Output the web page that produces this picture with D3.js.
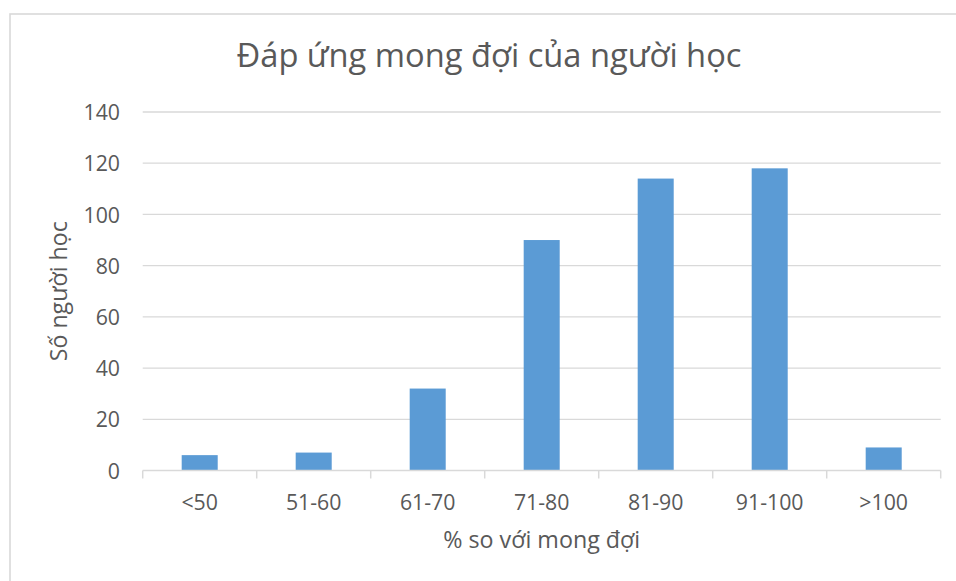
<!DOCTYPE html>
<html>
<head>
<meta charset="utf-8">
<script src="https://cdn.jsdelivr.net/npm/d3@7/dist/d3.min.js"></script>
<style>
  html, body { margin: 0; padding: 0; background: #ffffff; }
  svg { display: block; }
  text { font-family: "Open Sans", "Noto Sans", sans-serif; fill: #595959; }
</style>
</head>
<body>
<svg id="chart" width="956" height="581"></svg>
<script>
// ---- Data ----
const categories = ["<50", "51-60", "61-70", "71-80", "81-90", "91-100", ">100"];
const values = [6, 7, 32, 90, 114, 118, 9];
const yTicks = [0, 20, 40, 60, 80, 100, 120, 140];
const titleText = "Đáp ứng mong đợi của người học";
const xTitleText = "% so với mong đợi";
const yTitleText = "Số người học";

// ---- Layout ----
const W = 956, H = 581;
const plot = { left: 142.7, right: 940.7, top: 112, bottom: 470.5 };
const gridColor = "#d9d9d9";
const barColor = "#5b9bd5";
const tickFont = 21.3;

const svg = d3.select("#chart");
svg.append("rect").attr("x", 0).attr("y", 0).attr("width", W).attr("height", H).attr("fill", "#fff");
// chart area border (extends beyond the right/bottom of the window)
svg.append("rect")
  .attr("x", 10).attr("y", 14).attr("width", 1000).attr("height", 700)
  .attr("fill", "none").attr("stroke", gridColor).attr("stroke-width", 1.6);

const x = d3.scaleBand().domain(categories).range([plot.left, plot.right]).padding(0);
const y = d3.scaleLinear().domain([0, 140]).range([plot.bottom, plot.top]);

function fit(sel, target) {
  const node = sel.node();
  const base = parseFloat(sel.attr("font-size"));
  const w = node.getComputedTextLength();
  sel.attr("font-size", (base * target / w).toFixed(2));
}

// gridlines
svg.append("g").selectAll("line").data(yTicks.filter(d => d !== 0)).join("line")
  .attr("x1", plot.left).attr("x2", plot.right)
  .attr("y1", d => y(d)).attr("y2", d => y(d))
  .attr("stroke", gridColor).attr("stroke-width", 1.3);

// bars
const barFrac = 0.316;
svg.append("g").selectAll("rect").data(values).join("rect")
  .attr("x", (d, i) => x(categories[i]) + x.bandwidth() * (1 - barFrac) / 2)
  .attr("width", x.bandwidth() * barFrac)
  .attr("y", d => y(d))
  .attr("height", d => y(0) - y(d))
  .attr("fill", barColor);

// x axis
const xAxis = d3.axisBottom(x).tickSize(0).tickPadding(0);
const gx = svg.append("g").attr("transform", `translate(0,${plot.bottom})`).call(xAxis);
gx.select(".domain").remove();
gx.selectAll("text").remove();
gx.append("line").attr("x1", plot.left).attr("x2", plot.right).attr("y1", 0).attr("y2", 0)
  .attr("stroke", gridColor).attr("stroke-width", 1.5);
const boundaries = categories.map(c => x(c)).concat([x(categories[categories.length - 1]) + x.bandwidth()]);
gx.selectAll("line.tk").data(boundaries).join("line").attr("class", "tk")
  .attr("x1", d => d).attr("x2", d => d).attr("y1", 0).attr("y2", 8)
  .attr("stroke", gridColor).attr("stroke-width", 1.5);
gx.selectAll("text.lbl").data(categories).join("text").attr("class", "lbl")
  .attr("x", d => x(d) + x.bandwidth() / 2).attr("y", 39.5)
  .attr("text-anchor", "middle").attr("font-size", tickFont)
  .text(d => d);

// y axis labels
const yAxis = d3.axisLeft(y).tickValues(yTicks).tickSize(0).tickPadding(0);
const gy = svg.append("g").attr("transform", `translate(120,0)`).call(yAxis);
gy.select(".domain").remove();
gy.selectAll("text").attr("font-size", tickFont).attr("fill", "#595959")
  .attr("font-family", "Open Sans, Noto Sans, sans-serif").attr("dy", "0.36em");

// title
const t = svg.append("text").attr("x", 489).attr("y", 66.7).attr("text-anchor", "middle")
  .attr("font-size", 28).text(titleText);
fit(t, 505);

// x title
const xt = svg.append("text").attr("x", (plot.left + plot.right) / 2).attr("y", 548)
  .attr("text-anchor", "middle").attr("font-size", 18).text(xTitleText);
fit(xt, 197);

// y title
const yt = svg.append("text").attr("transform", `translate(67.3,${(plot.top + plot.bottom) / 2}) rotate(-90)`)
  .attr("text-anchor", "middle").attr("font-size", 18).text(yTitleText);
fit(yt, 140);
</script>
</body>
</html>
